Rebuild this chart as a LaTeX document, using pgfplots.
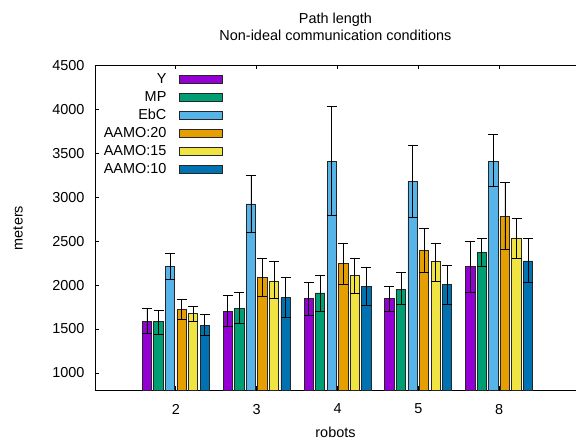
\documentclass[border=0pt]{standalone}
\usepackage{fontspec}
\setmainfont{Liberation Sans}
\usepackage{pgfplots}
\pgfplotsset{compat=1.18}
\definecolor{cY}{HTML}{9400D3}
\definecolor{cMP}{HTML}{009E73}
\definecolor{cEbC}{HTML}{56B4E9}
\definecolor{cA20}{HTML}{E69F00}
\definecolor{cA15}{HTML}{F0E442}
\definecolor{cA10}{HTML}{0072B2}
\pgfplotsset{
  mybar/.style={
    ybar, bar width=9.3bp, bar shift=0pt,
    x filter/.expression={x+#1},
    draw=black!85, line width=0.8bp,
    error bars/.cd,
      y dir=both, y explicit,
      error bar style={black, line width=0.8bp},
      error mark options={black, rotate=90, mark size=5bp, line width=0.8bp},
    /pgfplots/.cd,
    legend image code/.code={\draw[##1, line width=0.8bp, draw=black!85] (0bp,-3.6bp) rectangle (42.5bp,3.6bp);}
  }
}
\begin{document}
\begin{tikzpicture}[font=\fontsize{14.5}{17.5}\selectfont]
\path[use as bounding box] (-95bp,-50.7bp) rectangle (481bp,390.5bp);
\begin{axis}[
  at={(0,0)}, anchor=south west,
  scale only axis, width=481bp, height=325bp,
  xmin=-1, xmax=4.95, ymin=800, ymax=4500,
  axis x line=box, axis y line=left,
  axis line style={-, black, line width=0.8bp},
  tick align=inside, major tick length=4bp,
  tick style={black, line width=0.8bp},
  xtick={0,1,2,3,4}, xticklabels={2,3,4,5,8},
  ytick={1000,1500,2000,2500,3000,3500,4000,4500},
  scaled y ticks=false,
  /pgf/number format/1000 sep={},
  /pgf/number format/assume math mode=true,
  xticklabel style={yshift=-10bp},
  yticklabel style={xshift=-7bp},
  title={Path length\\Non-ideal communication conditions},
  title style={at={(axis description cs:0.5,1.10)}, anchor=center, align=center},
  xlabel={robots},
  xlabel style={at={(axis description cs:0.5,-0.128)}, anchor=center},
  ylabel={meters},
  ylabel style={at={(axis description cs:-0.16,0.5)}, anchor=center},
  legend cell align=right,
  legend plot pos=right,
  legend style={draw=none, fill=none, inner sep=0pt, outer sep=0pt,
    at={(axis description cs:0.2655,0.979)}, anchor=north east,
    row sep=4bp, column sep=13bp,
    nodes={inner sep=0pt, text height=11bp, text depth=3bp}},
]
\addplot[mybar=-0.35714, fill=cY] coordinates {
  (0,1589) += (0,151) -= (0,140)
  (1,1703) += (0,174) -= (0,171)
  (2,1847) += (0,182) -= (0,194)
  (3,1847) += (0,137) -= (0,141)
  (4,2211) += (0,292) -= (0,292)
};
\addlegendentry{Y}
\addplot[mybar=-0.21429, fill=cMP] coordinates {
  (0,1589) += (0,125) -= (0,145)
  (1,1737) += (0,185) -= (0,175)
  (2,1911) += (0,205) -= (0,205)
  (3,1950) += (0,189) -= (0,171)
  (4,2371) += (0,166) -= (0,160)
};
\addlegendentry{MP}
\addplot[mybar=-0.07143, fill=cEbC] coordinates {
  (0,2215) += (0,144) -= (0,152)
  (1,2924) += (0,324) -= (0,322)
  (2,3410) += (0,630) -= (0,615)
  (3,3183) += (0,413) -= (0,418)
  (4,3407) += (0,307) -= (0,289)
};
\addlegendentry{EbC}
\addplot[mybar=0.07143, fill=cA20] coordinates {
  (0,1722) += (0,114) -= (0,114)
  (1,2086) += (0,223) -= (0,216)
  (2,2246) += (0,234) -= (0,236)
  (3,2397) += (0,250) -= (0,258)
  (4,2781) += (0,383) -= (0,376)
};
\addlegendentry{AAMO:20}
\addplot[mybar=0.21429, fill=cA15] coordinates {
  (0,1676) += (0,80) -= (0,87)
  (1,2047) += (0,221) -= (0,200)
  (2,2105) += (0,204) -= (0,201)
  (3,2268) += (0,212) -= (0,227)
  (4,2537) += (0,224) -= (0,228)
};
\addlegendentry{AAMO:15}
\addplot[mybar=0.35714, fill=cA10] coordinates {
  (0,1540) += (0,125) -= (0,114)
  (1,1858) += (0,224) -= (0,227)
  (2,1984) += (0,216) -= (0,217)
  (3,2006) += (0,217) -= (0,227)
  (4,2275) += (0,251) -= (0,246)
};
\addlegendentry{AAMO:10}
\end{axis}
\end{tikzpicture}
\end{document}
